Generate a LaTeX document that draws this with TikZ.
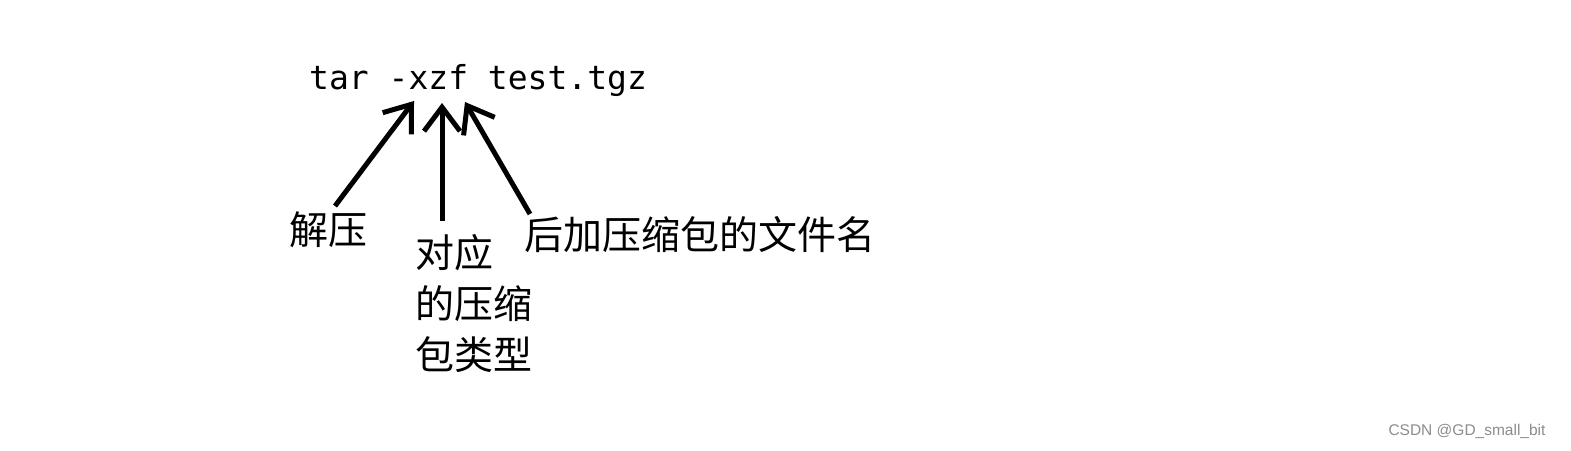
\documentclass[tikz,border=0pt]{standalone}
\usepackage{fontspec}
\setmainfont{Liberation Sans}
\setmonofont{DejaVu Sans Mono}
\newfontfamily\cjk{Noto Sans CJK SC}
\usetikzlibrary{arrows.meta}

\begin{document}
\begin{tikzpicture}[x=1pt, y=-1pt,
    pointer/.style={line width=5pt, -{Straight Barb[length=24pt, width=36pt]}},
    label/.style={inner sep=0pt, align=left, font=\cjk\fontsize{39}{51}\selectfont}]
  \useasboundingbox (0,0) rectangle (1571,450);

  % The command
  \node[inner sep=0pt, anchor=base west, font=\ttfamily\fontsize{33}{33}\selectfont] (cmd) at (309,89) {tar -xzf test.tgz};

  % Labels under the command
  \node[label, anchor=north west] (jieya) at (289,211) {解压};
  \node[label, anchor=north west] (leixing) at (415,234) {对应\\的压缩\\包类型};
  \node[label, anchor=north west] (wenjian) at (524,216) {后加压缩包的文件名};

  % Arrow ends (tips point at x, z and f)
  \coordinate (xtip) at (414,101);
  \coordinate (ztip) at (442,103);
  \coordinate (ftip) at (465,102);
  \coordinate (xtail) at (335,206);
  \coordinate (ztail) at (442,221);
  \coordinate (ftail) at (530,214);

  % Arrows
  \draw[pointer] (xtail) -- (xtip);
  \draw[pointer] (ztail) -- (ztip);
  \draw[pointer] (ftail) -- (ftip);

  % Watermark (optional)
  \node[inner sep=0pt, text=black!45, font=\fontsize{15.5}{15.5}\selectfont] (mark) at (1467,431) {CSDN @GD\_small\_bit};
\end{tikzpicture}
\end{document}
